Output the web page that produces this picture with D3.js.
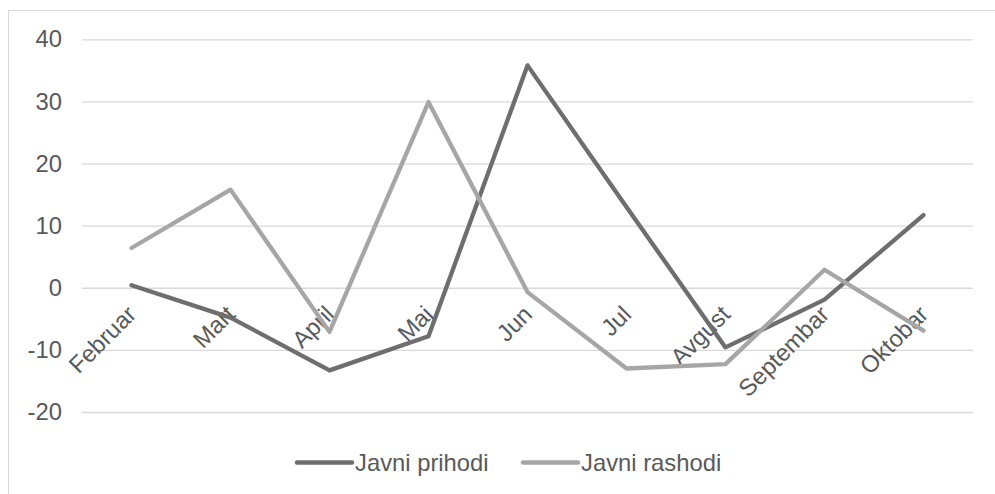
<!DOCTYPE html>
<html>
<head>
<meta charset="utf-8">
<script src="https://cdn.jsdelivr.net/npm/d3@7"></script>
<style>
  body { margin: 0; background: #fff; }
  svg { display: block; font-family: "Liberation Sans", Arial, sans-serif; }
</style>
</head>
<body>
<div id="wrapper"></div>
<script>
const months = ["Februar", "Mart", "April", "Maj", "Jun", "Jul", "Avgust", "Septembar", "Oktobar"]
const prihodi = [0.4, -4.8, -13.3, -7.8, 35.8, 13, -9.6, -1.9, 11.7]
const rashodi = [6.4, 15.8, -7.1, 29.9, -0.7, -13, -12.3, 2.9, -6.9]
const yTicks = [-20, -10, 0, 10, 20, 30, 40]

const seriesNames = ["Javni prihodi", "Javni rashodi"]
const seriesColors = ["#6e6e6e", "#a6a6a6"]

function drawChart () {
    const dimensions = {
        width: 995,
        height: 494,
        margin: { top: 39.3, right: 22, bottom: 82, left: 82 },
    }
    dimensions.boundedWidth = dimensions.width - dimensions.margin.left - dimensions.margin.right
    dimensions.boundedHeight = dimensions.height - dimensions.margin.top - dimensions.margin.bottom

    const fontSize = "23.8px"

    const wrapper = d3.select("#wrapper")
        .append("svg")
        .attr("width", dimensions.width)
        .attr("height", dimensions.height)

    // chart frame
    wrapper.append("rect")
        .attr("x", 8.5)
        .attr("y", 10.5)
        .attr("width", dimensions.width)
        .attr("height", dimensions.height)
        .attr("fill", "none")
        .attr("stroke", "#d9d9d9")

    const bounds = wrapper.append("g")
        .attr("transform", `translate(${dimensions.margin.left},${dimensions.margin.top})`)

    const xScale = d3.scalePoint()
        .domain(months)
        .range([0, dimensions.boundedWidth])
        .padding(0.5)
    const yScale = d3.scaleLinear()
        .domain([-20, 40])
        .range([dimensions.boundedHeight, 0])

    // gridlines + y labels (plain hyphen for negatives, like Excel)
    const yAxisGenerator = d3.axisLeft(yScale)
        .tickValues(yTicks)
        .tickFormat(d => String(d))
        .tickSize(-dimensions.boundedWidth)
        .tickPadding(20)
    const yAxis = bounds.append("g").call(yAxisGenerator)
    yAxis.select(".domain").remove()
    yAxis.selectAll(".tick line").attr("stroke", "#d9d9d9").attr("stroke-width", 1.3)
    yAxis.selectAll(".tick text")
        .attr("fill", "#595959")
        .attr("font-family", "Liberation Sans, Arial, sans-serif")
        .style("font-size", fontSize)

    // category labels, hanging from the zero line
    const xAxis = bounds.append("g")
        .attr("transform", `translate(0,${yScale(0)})`)
    xAxis.selectAll("text")
        .data(months)
        .join("text")
        .attr("transform", d => `translate(${xScale(d) - 6},16) rotate(-45)`)
        .attr("text-anchor", "end")
        .attr("dy", "0.72em")
        .attr("fill", "#595959")
        .style("font-size", fontSize)
        .text(d => d)

    const lineGenerator = d3.line()
        .x((d, i) => xScale(months[i]))
        .y(d => yScale(d))

    ;[prihodi, rashodi].forEach((values, i) => {
        bounds.append("path")
            .datum(values)
            .attr("d", lineGenerator)
            .attr("fill", "none")
            .attr("stroke", seriesColors[i])
            .attr("stroke-width", 4.3)
            .attr("stroke-linejoin", "round")
            .attr("stroke-linecap", "round")
    })

    // legend
    const legendX = [297, 523]
    const legend = wrapper.append("g")
    seriesNames.forEach((name, i) => {
        legend.append("line")
            .attr("x1", legendX[i])
            .attr("x2", legendX[i] + 55)
            .attr("y1", 462.5)
            .attr("y2", 462.5)
            .attr("stroke", seriesColors[i])
            .attr("stroke-width", 4.5)
            .attr("stroke-linecap", "round")
        legend.append("text")
            .attr("x", legendX[i] + 58)
            .attr("y", 462.5)
            .attr("dy", "0.35em")
            .attr("fill", "#595959")
            .style("font-size", fontSize)
            .text(name)
    })
}

drawChart()
</script>
</body>
</html>
